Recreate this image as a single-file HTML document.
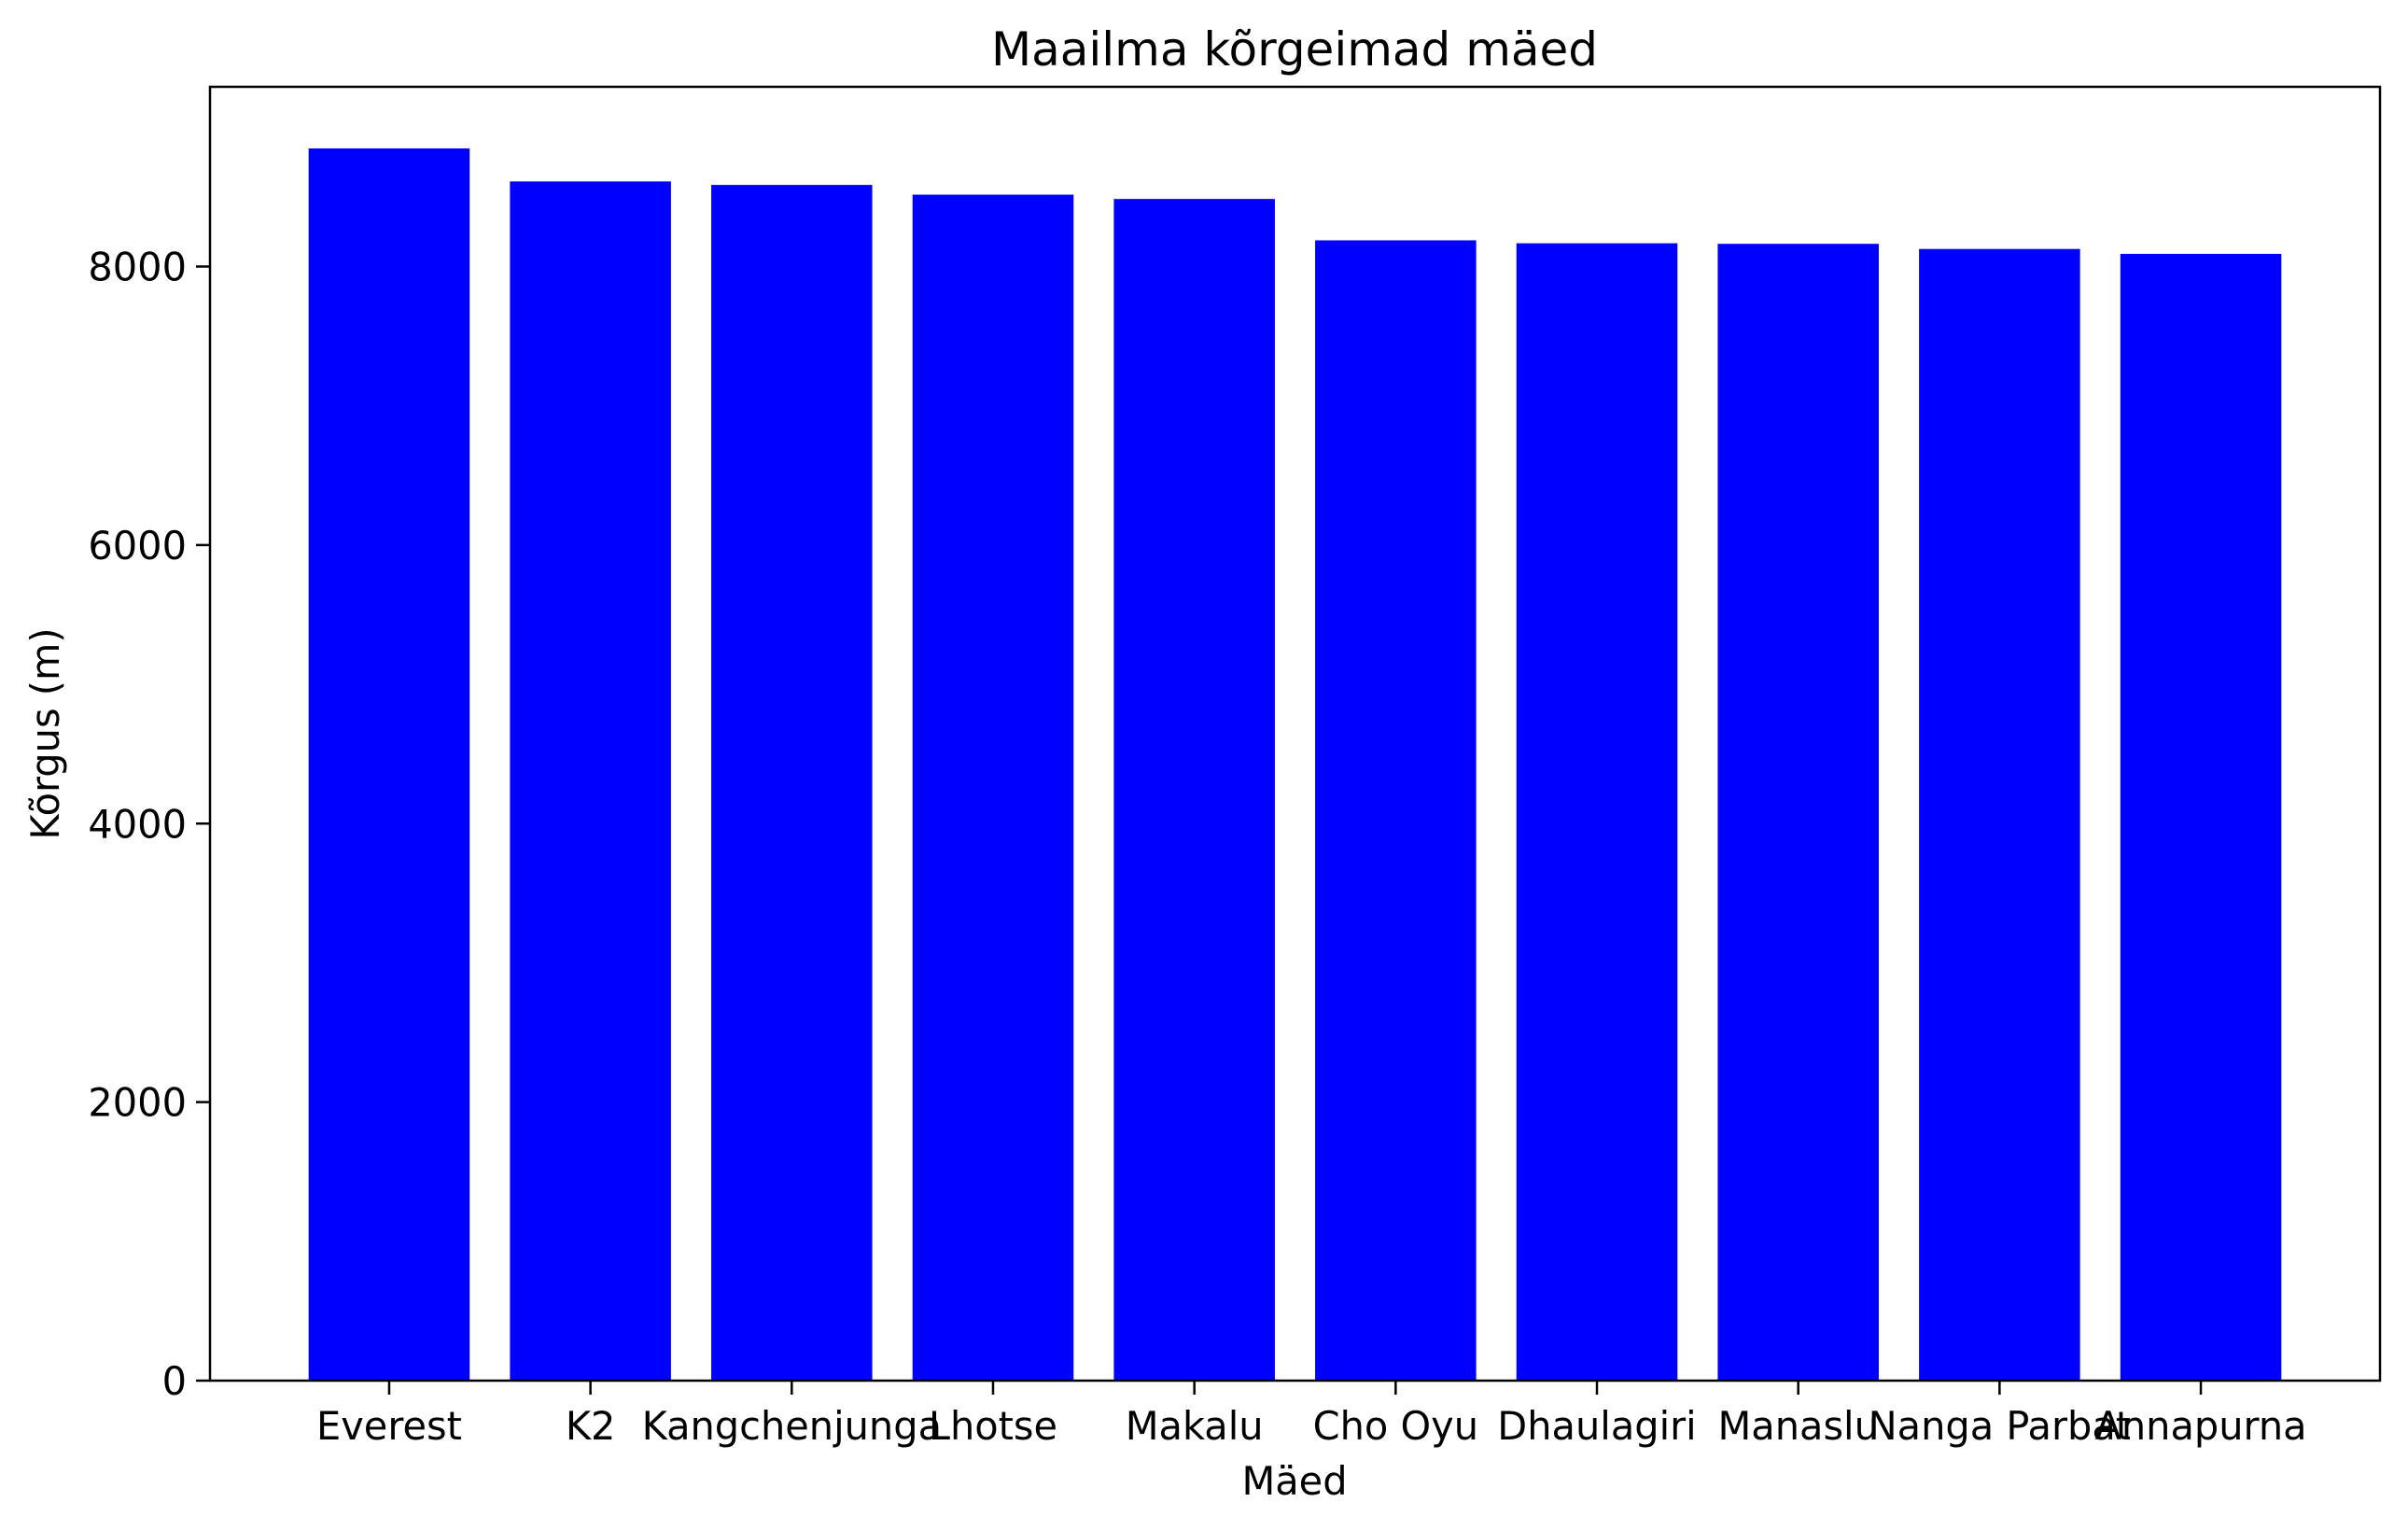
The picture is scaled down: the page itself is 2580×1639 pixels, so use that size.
<!DOCTYPE html>
<html><head><meta charset="utf-8"><style>body{margin:0;background:#fff}svg{display:block}text{font-family:"DejaVu Sans","Liberation Sans",sans-serif;fill:#000}</style></head>
<body>
<svg id="chart" width="2580" height="1639" xmlns="http://www.w3.org/2000/svg">
<text x="1387" y="70" font-size="50" text-anchor="middle">Maailma kõrgeimad mäed</text>
<text x="1387" y="1601" font-size="41.5" text-anchor="middle">Mäed</text>
<text x="0" y="0" font-size="41.5" text-anchor="middle" transform="translate(63,786) rotate(-90)">Kõrgus (m)</text>
<g id="bars"></g><g id="xticks"></g><g id="yticks"></g>
<rect x="225" y="93" width="2325" height="1386" fill="none" stroke="#000" stroke-width="2.5"/>
</svg>
<script>
const categories = ["Everest","K2","Kangchenjunga","Lhotse","Makalu","Cho Oyu","Dhaulagiri","Manaslu","Nanga Parbat","Annapurna"];
const heights = [8848,8611,8586,8516,8485,8188,8167,8163,8126,8091];
const yTicks = [0,2000,4000,6000,8000];
const L=225,T=93,R=2550,B=1479;
const ymax=Math.max(...heights)*1.05;
const xmin=-0.89,xmax=categories.length-1+0.89;
const sx=v=>L+(v-xmin)/(xmax-xmin)*(R-L);
const sy=v=>B-v/ymax*(B-T);
const NS="http://www.w3.org/2000/svg";
const bw=0.8*(R-L)/(xmax-xmin);
const bars=document.getElementById('bars'),xt=document.getElementById('xticks'),yt=document.getElementById('yticks');
categories.forEach((c,i)=>{
  const r=document.createElementNS(NS,'rect');
  
  
  r.setAttribute('x',sx(i)-bw/2);r.setAttribute('y',sy(heights[i]));
  r.setAttribute('width',bw);r.setAttribute('height',B-sy(heights[i]));
  r.setAttribute('fill','#0000ff');bars.appendChild(r);
  const l=document.createElementNS(NS,'line');
  
  
  l.setAttribute('x1',sx(i));l.setAttribute('x2',sx(i));l.setAttribute('y1',B);l.setAttribute('y2',B+15);
  l.setAttribute('stroke','#000');l.setAttribute('stroke-width','2.5');xt.appendChild(l);
  const t=document.createElementNS(NS,'text');
  
  
  t.setAttribute('x',sx(i));t.setAttribute('y',B+63);t.setAttribute('font-size','41.5');t.setAttribute('text-anchor','middle');
  t.textContent=c;xt.appendChild(t);
});
yTicks.forEach(v=>{
  const l=document.createElementNS(NS,'line');
  
  
  l.setAttribute('x1',L-15);l.setAttribute('x2',L);l.setAttribute('y1',sy(v));l.setAttribute('y2',sy(v));
  l.setAttribute('stroke','#000');l.setAttribute('stroke-width','2.5');yt.appendChild(l);
  const t=document.createElementNS(NS,'text');
  
  
  t.setAttribute('x',L-25);t.setAttribute('y',sy(v)+15);t.setAttribute('font-size','41.5');t.setAttribute('text-anchor','end');
  t.textContent=v;yt.appendChild(t);
});
</script>
</body></html>
